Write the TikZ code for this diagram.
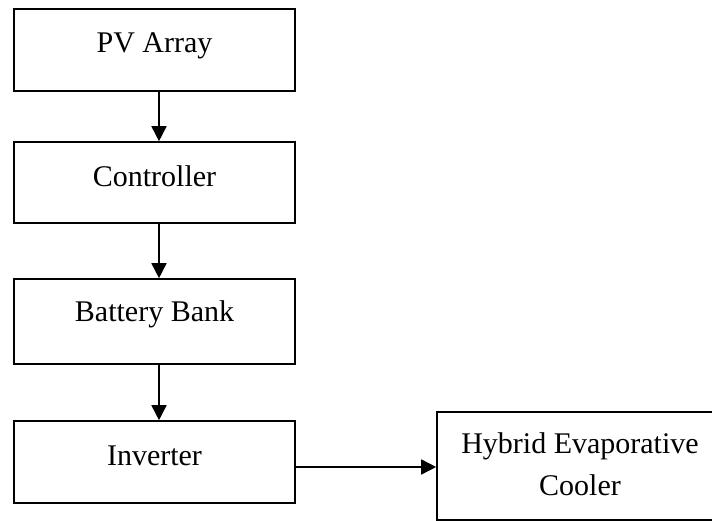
\documentclass[tikz,border=0pt]{standalone}
\usepackage{fontspec}
\setmainfont{Liberation Serif}
\usetikzlibrary{arrows.meta,calc}
\begin{document}
\begin{tikzpicture}[x=1pt,y=-1pt,
  box/.style={draw=black,line width=1.6pt,inner sep=0pt},
  lbl/.style={font=\fontsize{30}{42}\selectfont,inner sep=0pt,anchor=base},
  flow/.style={line width=1.6pt,-{Triangle[length=15pt,width=15pt]}}]
\clip (0,0) rectangle (712,521);
\fill[white] (0,0) rectangle (712,521);
% boxes
\node[box,minimum width=281pt,minimum height=82pt] (pv) at (154.5,50) {};
\node[box,minimum width=281pt,minimum height=81pt] (ctrl) at (154.5,182.5) {};
\node[box,minimum width=281pt,minimum height=85pt] (bat) at (154.5,321.5) {};
\node[box,minimum width=281pt,minimum height=82pt] (inv) at (154.5,462) {};
\node[box,minimum width=300pt,minimum height=108pt] (hyb) at (587,466) {};
% labels
\node[lbl] (pvt) at ($(pv.center)+(0,3)$) {PV Array};
\node[lbl] (ctrlt) at ($(ctrl.center)+(0,4)$) {Controller};
\node[lbl] (batt) at ($(bat.center)+(0,0.5)$) {Battery Bank};
\node[lbl] (invt) at ($(inv.center)+(0,3)$) {Inverter};
\node[lbl] (hybt1) at (580,453) {Hybrid Evaporative};
\node[lbl] (hybt2) at (580,495) {Cooler};
% connectors
\coordinate (ax) at (159,0);
\coordinate (ay) at (0,467);
\draw[flow] (pv.south -| ax) -- (ctrl.north -| ax);
\draw[flow] (ctrl.south -| ax) -- (bat.north -| ax);
\draw[flow] (bat.south -| ax) -- (inv.north -| ax);
\draw[flow] (inv.east |- ay) -- (hyb.west |- ay);
\end{tikzpicture}
\end{document}
